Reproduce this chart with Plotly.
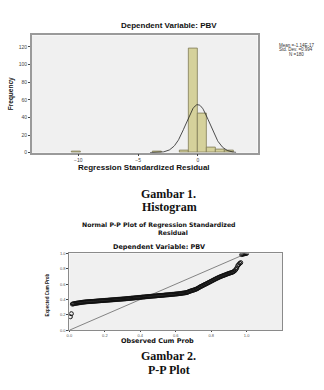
import math
import plotly.graph_objects as go

# ---------------- data ----------------
# Histogram (Regression Standardized Residual)
bin_centers = [-10.19, -3.40, -1.13, -0.38, 0.38, 1.13, 1.89, 2.64]
bin_counts = [1, 1, 2, 118, 45, 6, 4, 3]
bin_width = 0.755
res_mean = -1.14e-17
res_sd = 0.994
res_n = 180
hist_xticks = [-10, -5, 0]
hist_yticks = [0, 20, 40, 60, 80, 100, 120]

# Normal P-P plot: expected cum prob for each ranked residual (N = 180)
pp_expected = [
    0.175, 0.215, 0.340, 0.343, 0.346, 0.349, 0.351, 0.353, 0.355, 0.357,
    0.359, 0.361, 0.363, 0.365, 0.366, 0.368, 0.369, 0.370, 0.371, 0.372,
    0.373, 0.374, 0.375, 0.376, 0.377, 0.378, 0.379, 0.380, 0.381, 0.382,
    0.383, 0.384, 0.385, 0.386, 0.387, 0.388, 0.389, 0.390, 0.391, 0.392,
    0.393, 0.394, 0.395, 0.396, 0.397, 0.398, 0.399, 0.400, 0.401, 0.402,
    0.403, 0.404, 0.405, 0.406, 0.407, 0.408, 0.409, 0.411, 0.412, 0.413,
    0.414, 0.415, 0.417, 0.418, 0.419, 0.420, 0.422, 0.423, 0.424, 0.426,
    0.427, 0.428, 0.429, 0.431, 0.432, 0.433, 0.434, 0.436, 0.437, 0.438,
    0.439, 0.440, 0.442, 0.443, 0.444, 0.445, 0.446, 0.447, 0.448, 0.450,
    0.451, 0.452, 0.453, 0.454, 0.455, 0.456, 0.458, 0.459, 0.460, 0.461,
    0.462, 0.463, 0.465, 0.466, 0.467, 0.468, 0.470, 0.471, 0.472, 0.474,
    0.475, 0.477, 0.478, 0.480, 0.482, 0.484, 0.486, 0.488, 0.490, 0.494,
    0.500, 0.505, 0.510, 0.514, 0.518, 0.522, 0.526, 0.531, 0.536, 0.542,
    0.550, 0.558, 0.566, 0.572, 0.578, 0.585, 0.592, 0.598, 0.604, 0.611,
    0.618, 0.624, 0.631, 0.638, 0.644, 0.651, 0.658, 0.664, 0.671, 0.677,
    0.683, 0.689, 0.695, 0.700, 0.705, 0.710, 0.715, 0.720, 0.725, 0.730,
    0.735, 0.740, 0.744, 0.748, 0.752, 0.757, 0.765, 0.775, 0.790, 0.810,
    0.840, 0.855, 0.870, 0.880, 0.985, 0.990, 0.993, 0.996, 0.998, 1.000,
]
pp_n = len(pp_expected)
pp_observed = [(i + 1) / pp_n for i in range(pp_n)]
pp_ticks = [0.0, 0.2, 0.4, 0.6, 0.8, 1.0]
pp_ticklabels = ["0.0", "0.2", "0.4", "0.6", "0.8", "1.0"]

# ---------------- figure ----------------
SANS = "Liberation Sans, Arial, sans-serif"
WIDE = "DejaVu Sans, Liberation Sans, sans-serif"
SERIF = "Liberation Serif, Times New Roman, serif"

fig = go.Figure()

fig.add_trace(go.Bar(
    x=bin_centers, y=bin_counts, width=bin_width,
    marker=dict(color="#d5d19b", line=dict(color="#7d7a55", width=0.8)),
    xaxis="x", yaxis="y", showlegend=False,
))

# fitted normal curve from mean, sd, N and bin width
curve_x = [-4.0 + 0.05 * k for k in range(145)]
scale = res_n * bin_width / (res_sd * math.sqrt(2 * math.pi))
curve_y = [scale * math.exp(-0.5 * ((v - res_mean) / res_sd) ** 2) for v in curve_x]
fig.add_trace(go.Scatter(
    x=curve_x, y=curve_y, mode="lines",
    line=dict(color="#222222", width=0.8),
    xaxis="x", yaxis="y", showlegend=False,
))

# P-P plot
fig.add_trace(go.Scatter(
    x=[0, 1], y=[0, 1], mode="lines",
    line=dict(color="#555555", width=0.7),
    xaxis="x2", yaxis="y2", showlegend=False,
))
fig.add_trace(go.Scatter(
    x=pp_observed, y=pp_expected, mode="markers",
    marker=dict(symbol="circle-open", size=4, color="#111111",
                line=dict(width=1, color="#111111")),
    xaxis="x2", yaxis="y2", showlegend=False,
))

def axis_style(fsize, color, tlen):
    return dict(
        showgrid=False, zeroline=False, showline=True, mirror=True,
        ticks="outside", ticklen=tlen, tickwidth=0.8, tickcolor="#444",
        tickfont=dict(family=SANS, size=fsize, color=color),
    )

fig.update_layout(
    width=324, height=390,
    margin=dict(l=0, r=0, t=0, b=0),
    paper_bgcolor="white", plot_bgcolor="#f0f0f0",
    bargap=0,
    xaxis=dict(domain=[0.0895, 0.793], range=[-13.9, 5.0], tickvals=hist_xticks,
               anchor="y", linecolor="#9a9a9a", linewidth=1.5,
               **axis_style(5, "#444", 1.5)),
    yaxis=dict(domain=[0.6103, 0.9154], range=[0, 133], tickvals=hist_yticks,
               anchor="x", linecolor="#9a9a9a", linewidth=1.5,
               **axis_style(5, "#444", 2)),
    xaxis2=dict(domain=[0.2068, 0.8694], range=[0, 1.2], tickvals=pp_ticks,
                ticktext=pp_ticklabels, anchor="y2",
                linecolor="#8a8a8a", linewidth=1, **axis_style(4, "#555", 1)),
    yaxis2=dict(domain=[0.1479, 0.3479], range=[0, 1.0], tickvals=pp_ticks,
                ticktext=pp_ticklabels, anchor="x2",
                linecolor="#8a8a8a", linewidth=1, **axis_style(4, "#555", 2)),
)

def ann(text, x, y, size, family=SANS, bold=True, color="#111", angle=0):
    t = f"<b>{text}</b>" if bold else text
    fig.add_annotation(text=t, x=x, y=y, xref="paper", yref="paper",
                       xanchor="center", yanchor="middle", showarrow=False,
                       textangle=angle, font=dict(family=family, size=size, color=color))

# Histogram texts
ann("Dependent Variable: PBV", 167.2 / 324, 1 - 23 / 390, 8)
ann("Regression Standardized Residual", 142.5 / 324, 1 - 167 / 390, 8)
ann("Frequency", 8 / 324, 1 - 91.7 / 390, 6.5, angle=-90)
ann("Mean =-1.14E-17", 296 / 324, 1 - 43 / 390, 4.5, bold=False, color="#333")
ann("Std. Dev. =0.994", 296 / 324, 1 - 47.5 / 390, 4.5, bold=False, color="#333")
ann("N =180", 296 / 324, 1 - 52 / 390, 4.5, bold=False, color="#333")

# Captions
ann("Gambar 1.", 167.5 / 324, 1 - 194 / 390, 12, family=SERIF)
ann("Histogram", 168.5 / 324, 1 - 207.5 / 390, 12, family=SERIF)
ann("Gambar 2.", 167.5 / 324, 1 - 359 / 390, 12, family=SERIF)
ann("P-P Plot", 167.5 / 324, 1 - 372.5 / 390, 12, family=SERIF)

# P-P texts
ann("Normal P-P Plot of Regression Standardized", 157.5 / 324, 1 - 225 / 390, 6.2, family=WIDE)
ann("Residual", 172 / 324, 1 - 233.2 / 390, 6.2, family=WIDE)
ann("Dependent Variable: PBV", 157.5 / 324, 1 - 248 / 390, 6.5, family=WIDE)
ann("Observed Cum Prob", 156 / 324, 1 - 343 / 390, 6.5, family=WIDE)
ann("Expected Cum Prob", 45 / 324, 1 - 296.5 / 390, 4.5,
    family="Liberation Sans Narrow, Liberation Sans, sans-serif", angle=-90)

fig.write_html("out.html")
